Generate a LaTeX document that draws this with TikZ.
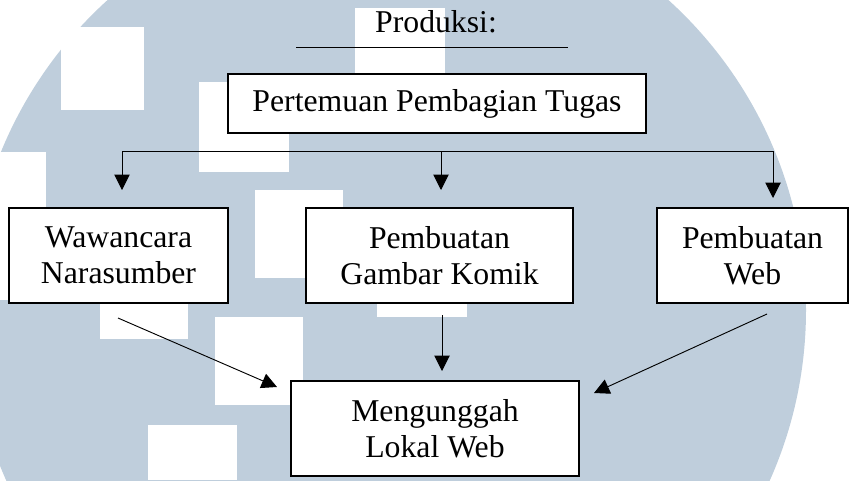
\documentclass[tikz,border=0pt]{standalone}
\usepackage{fontspec}
\setmainfont{Liberation Serif}
\usepackage{xcolor}
\usepackage{tikz}
\usetikzlibrary{arrows.meta}

\definecolor{markblue}{RGB}{191,206,220}

\begin{document}
\begin{tikzpicture}[x=0.75pt,y=-0.75pt,
    box/.style={draw,line width=0.9pt,fill=white,align=center,
        minimum height=71.25pt,font=\fontsize{23.8pt}{27pt}\selectfont},
    arr/.style={line width=0.7pt,-{Triangle[length=11.5pt,width=11.5pt]}}]
    \useasboundingbox (0,0) rectangle (849,480);

    % Watermark in the back
    \begin{scope}
        \clip (0,0) rectangle (849,480);
        \fill[markblue] (388,310) circle[radius=313.5pt];
        \foreach \xa/\ya/\xb/\yb in {61/27/144/110, 0/152/46/300, 199/82/289/172,
                355/8/445/98, 255/190/343/278, 377/230/467/317,
                100/250/188/339, 215/317/303/405, 148/425/237/480} {
            \fill[white] (\xa,\ya) rectangle (\xb,\yb);
        }
    \end{scope}

    % Title with its line
    \node[anchor=base,font=\fontsize{23.8pt}{27pt}\selectfont] (title) at (436,32) {Produksi:};
    \draw[line width=0.75pt] (296,47) -- (568,47);

    % Boxes
    \node[box,minimum width=313.5pt,minimum height=44.25pt] (tugas) at (437,103.5) {Pertemuan Pembagian Tugas};
    \node[box,minimum width=164.25pt] (wawan) at (118.5,255.5) {Wawancara\\Narasumber};
    \node[box,minimum width=200.25pt] (komik) at (439.5,255.5) {Pembuatan\\Gambar Komik};
    \node[box,minimum width=143.25pt] (web) at (752.5,255.5) {Pembuatan\\Web};
    \node[box,minimum width=216pt] (unggah) at (435,428.5) {Mengunggah\\Lokal Web};

    % Split into the three tasks
    \coordinate (split) at (441,151);
    \coordinate (wawanIn) at (122,190);
    \coordinate (komikIn) at (441,190);
    \coordinate (webIn) at (773,198);
    \draw[arr] (split) -| (wawanIn);
    \draw[arr] (split) -- (komikIn);
    \draw[arr] (split) -| (webIn);

    % Join into the upload
    \coordinate (wawanOut) at (118,318);
    \coordinate (komikOut) at (442,315);
    \coordinate (webOut) at (767,314);
    \coordinate (unggahL) at (277,387);
    \coordinate (unggahT) at (442,371);
    \coordinate (unggahR) at (594,393);
    \draw[arr] (wawanOut) -- (unggahL);
    \draw[arr] (komikOut) -- (unggahT);
    \draw[arr] (webOut) -- (unggahR);

\end{tikzpicture}
\end{document}
